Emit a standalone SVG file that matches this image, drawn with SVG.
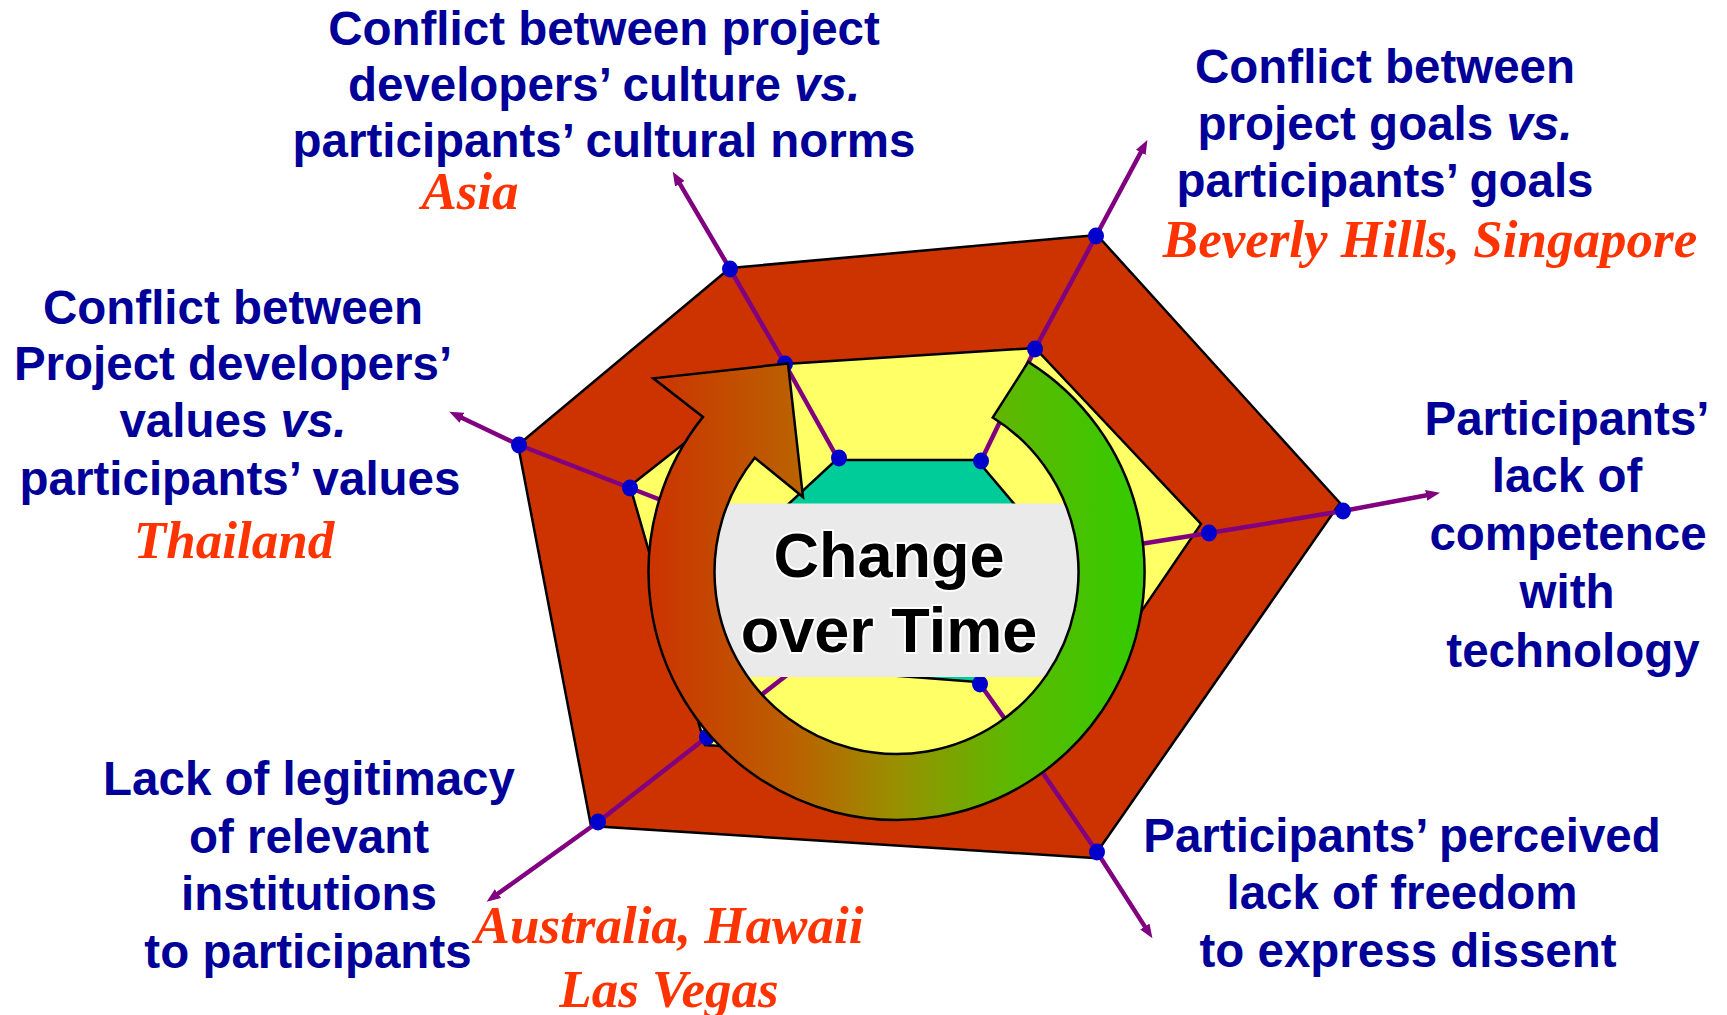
<svg xmlns="http://www.w3.org/2000/svg" width="1727" height="1015" viewBox="0 0 1727 1015">
<style>
.poly{stroke:#000;stroke-width:2.5;stroke-linejoin:miter}
.axis{fill:none;stroke:#800080;stroke-width:4.5;marker-end:url(#ah)}
.dot{fill:#0000CC}
.lbl{font-family:"Liberation Sans",Arial,sans-serif;font-weight:bold;font-size:47.5px;fill:#000099;text-anchor:middle}
.place{font-family:"Liberation Serif","Times New Roman",serif;font-weight:bold;font-style:italic;font-size:53px;fill:#FF3300;text-anchor:middle}
.it{font-style:italic}
.ctr{font-family:"Liberation Sans",Arial,sans-serif;font-weight:bold;font-size:63px;fill:#000;stroke:#fff;stroke-width:4;paint-order:stroke;text-anchor:middle}
</style>
<defs>
<marker id="ah" viewBox="0 0 14 11" refX="6" refY="5.5" markerWidth="14" markerHeight="11" markerUnits="userSpaceOnUse" orient="auto">
<path d="M0,0 L14,5.5 L0,11 Z" fill="#800080"/>
</marker>
<linearGradient id="rg" gradientUnits="userSpaceOnUse" x1="648" y1="0" x2="1145" y2="0">
<stop offset="0" stop-color="#CC3300"/>
<stop offset="0.29" stop-color="#BB6000"/>
<stop offset="0.5" stop-color="#999000"/>
<stop offset="0.73" stop-color="#5CB800"/>
<stop offset="1" stop-color="#33CC00"/>
</linearGradient>
</defs>
<rect width="1727" height="1015" fill="#fff"/>

<g id="outer-hexagon"><polygon class="poly" fill="#CC3300" points="730,268 1097,235 1340,503 1093,858 591,826 518,445"/></g>
<g id="middle-hexagon"><polygon class="poly" fill="#FFFF66" points="785,364 1035,348 1201,524 1036,766 705,745 630,486"/></g>
<g id="inner-hexagon"><polygon class="poly" fill="#00CC99" points="836,460 977,460 1059,557 977,682 796,668 754,536"/></g>

<g id="connectors">
<path class="axis" d="M838,459 L785,364 L730,269 L676.8,178.6"/>
<path class="axis" d="M981,461 L1035,349 L1096,236 L1143.6,147.1"/>
<path class="axis" d="M1059,557 L1209,533 L1343,511 L1432.1,494.2"/>
<path class="axis" d="M980,684 L1034,760 L1097,852 L1148.1,931.6"/>
<path class="axis" d="M796,668 L707,737 L598,822 L493.1,897.1"/>
<path class="axis" d="M754,536 L630,488 L519,445 L456.5,415.2"/>
</g>

<g id="vertex-dots">
<ellipse class="dot" cx="730" cy="269" rx="8" ry="8.5"/>
<ellipse class="dot" cx="1096" cy="236" rx="8" ry="8.5"/>
<ellipse class="dot" cx="1343" cy="511" rx="8" ry="8.5"/>
<ellipse class="dot" cx="1097" cy="852" rx="8" ry="8.5"/>
<ellipse class="dot" cx="598" cy="822" rx="8" ry="8.5"/>
<ellipse class="dot" cx="519" cy="445" rx="8" ry="8.5"/>
<ellipse class="dot" cx="785" cy="364" rx="8" ry="8.5"/>
<ellipse class="dot" cx="1035" cy="349" rx="8" ry="8.5"/>
<ellipse class="dot" cx="1209" cy="533" rx="8" ry="8.5"/>
<ellipse class="dot" cx="1034" cy="760" rx="8" ry="8.5"/>
<ellipse class="dot" cx="707" cy="737" rx="8" ry="8.5"/>
<ellipse class="dot" cx="630" cy="488" rx="8" ry="8.5"/>
<ellipse class="dot" cx="839" cy="458" rx="8" ry="8.5"/>
<ellipse class="dot" cx="981" cy="461" rx="8" ry="8.5"/>
<ellipse class="dot" cx="1059" cy="557" rx="8" ry="8.5"/>
<ellipse class="dot" cx="980" cy="684" rx="8" ry="8.5"/>
<ellipse class="dot" cx="796" cy="666" rx="8" ry="8.5"/>
<ellipse class="dot" cx="754" cy="536" rx="8" ry="8.5"/>
</g>

<g id="center-band"><rect x="712" y="503.5" width="369" height="173.5" fill="#EAEAEA"/></g>

<g id="cycle-arrow">
<path d="M1028.3,361.9 A248,248 0 1 1 703,416.9 L653.3,378.3 L788,363.5 L803,497 L754.8,457.8 A182,182 0 1 0 992.7,417.5 Z" fill="url(#rg)" stroke="#000" stroke-width="2.5" stroke-linejoin="miter"/>
</g>

<g id="center-label">
<text class="ctr" x="889" y="577">Change</text>
<text class="ctr" x="889" y="652">over Time</text>
</g>

<g id="label-culture">
<text class="lbl" x="604" y="45">Conflict between project</text>
<text class="lbl" x="604" y="101">developers’ culture <tspan class="it">vs.</tspan></text>
<text class="lbl" x="604" y="157">participants’ cultural norms</text>
<text class="place" x="470" y="209">Asia</text>
</g>

<g id="label-goals">
<text class="lbl" x="1385" y="83">Conflict between</text>
<text class="lbl" x="1385" y="140">project goals <tspan class="it">vs.</tspan></text>
<text class="lbl" x="1385" y="197">participants’ goals</text>
<text class="place" x="1430" y="257">Beverly Hills, Singapore</text>
</g>

<g id="label-values">
<text class="lbl" x="233" y="324">Conflict between</text>
<text class="lbl" x="233" y="380">Project developers’</text>
<text class="lbl" x="233" y="437">values <tspan class="it">vs.</tspan></text>
<text class="lbl" x="240" y="495">participants’ values</text>
<text class="place" x="234" y="558">Thailand</text>
</g>

<g id="label-competence">
<text class="lbl" x="1567" y="435">Participants’</text>
<text class="lbl" x="1567" y="492">lack of</text>
<text class="lbl" x="1568" y="550">competence</text>
<text class="lbl" x="1567" y="608">with</text>
<text class="lbl" x="1573" y="667">technology</text>
</g>

<g id="label-legitimacy">
<text class="lbl" x="309" y="795">Lack of legitimacy</text>
<text class="lbl" x="309" y="853">of relevant</text>
<text class="lbl" x="309" y="910">institutions</text>
<text class="lbl" x="308" y="968">to participants</text>
<text class="place" x="669" y="943">Australia, Hawaii</text>
<text class="place" x="669" y="1007">Las Vegas</text>
</g>

<g id="label-dissent">
<text class="lbl" x="1402" y="852">Participants’ perceived</text>
<text class="lbl" x="1402" y="909">lack of freedom</text>
<text class="lbl" x="1408" y="967">to express dissent</text>
</g>
</svg>
